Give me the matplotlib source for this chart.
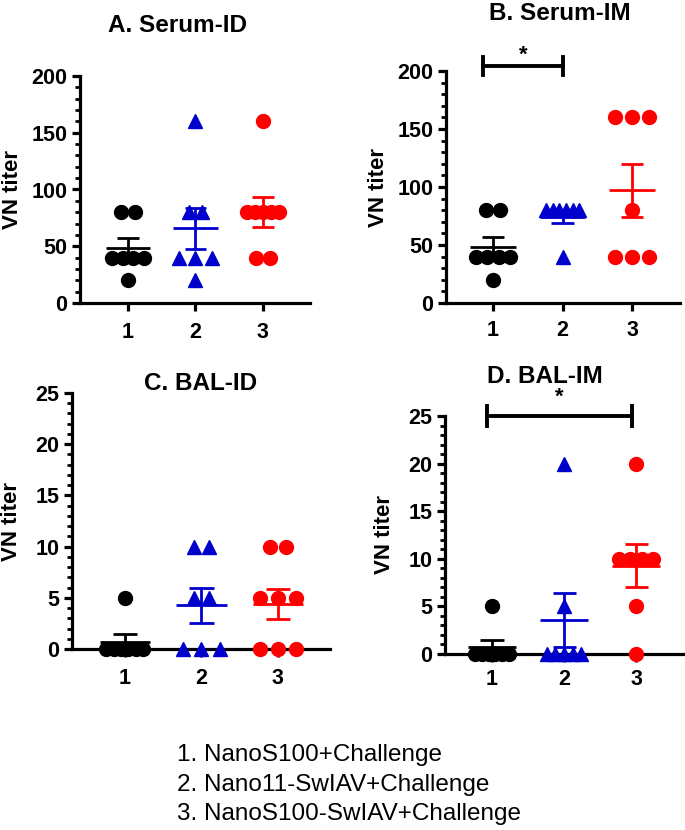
import numpy as np
import matplotlib
matplotlib.use("Agg")
import matplotlib.pyplot as plt
from matplotlib.ticker import MultipleLocator

plt.rcParams["font.family"] = ["Liberation Sans", "DejaVu Sans"]

# ---------------------------------------------------------------------------
# Data (VN titers per animal)
# ---------------------------------------------------------------------------
groups = ["1", "2", "3"]

serum_id_g1 = [80, 80, 40, 40, 40, 40, 20]
serum_id_g2 = [160, 80, 80, 40, 40, 40, 20]
serum_id_g3 = [160, 80, 80, 80, 80, 80, 40, 40]

serum_im_g1 = [80, 80, 40, 40, 40, 40, 20]
serum_im_g2 = [80, 80, 80, 80, 80, 80, 40]
serum_im_g3 = [160, 160, 160, 80, 40, 40, 40]

bal_id_g1 = [5, 0, 0, 0, 0, 0, 0]
bal_id_g2 = [10, 10, 5, 5, 0, 0, 0]
bal_id_g3 = [10, 10, 5, 5, 5, 0, 0, 0]

bal_im_g1 = [5, 0, 0, 0, 0, 0, 0]
bal_im_g2 = [20, 5, 0, 0, 0, 0, 0]
bal_im_g3 = [20, 10, 10, 10, 10, 5, 0]

legend_lines = ["1. NanoS100+Challenge",
                "2. Nano11-SwIAV+Challenge",
                "3. NanoS100-SwIAV+Challenge"]

colors = ["#000000", "#0000CC", "#FF0000"]
markers = ["o", "^", "o"]

W, H = 685, 830


def spread(values):
    """Horizontal offsets so that equal values sit side by side."""
    values = np.asarray(values, dtype=float)
    offs = np.zeros(len(values))
    for v in np.unique(values):
        idx = np.where(values == v)[0]
        k = len(idx)
        if k == 1:
            continue
        half = 0.1 if k == 2 else 0.24
        offs[idx] = np.linspace(-half, half, k)
    return offs


def panel(rect, data, ymax, ymajor, yminor, xlim, labelpad, xpad):
    ax = fig.add_axes(rect)
    for i, vals in enumerate(data):
        x0 = i + 1
        vals = np.asarray(vals, dtype=float)
        ax.plot(x0 + spread(vals), vals, linestyle="none", marker=markers[i],
                color=colors[i], markersize=10, clip_on=False, zorder=3)
        m = vals.mean()
        sem = vals.std(ddof=1) / np.sqrt(len(vals))
        ax.hlines(m, x0 - 0.33, x0 + 0.33, color=colors[i], lw=2.0, zorder=4)
        ax.vlines(x0, m - sem, m + sem, color=colors[i], lw=2.0, zorder=4)
        ax.hlines([m - sem, m + sem], x0 - 0.16, x0 + 0.16, color=colors[i],
                  lw=2.0, zorder=4)
    ax.set_xlim(*xlim)
    ax.set_ylim(0, ymax)
    ax.set_xticks([1, 2, 3])
    ax.set_xticklabels(groups)
    ax.yaxis.set_major_locator(MultipleLocator(ymajor))
    ax.yaxis.set_minor_locator(MultipleLocator(yminor))
    for s in ["top", "right"]:
        ax.spines[s].set_visible(False)
    for s in ["left", "bottom"]:
        ax.spines[s].set_linewidth(2.3)
    ax.tick_params(axis="both", which="major", length=6, width=2.3,
                   labelsize=15.5, pad=3)
    ax.tick_params(axis="x", which="major", pad=xpad)
    ax.tick_params(axis="y", which="minor", length=3.5, width=2.0)
    for lab in ax.get_xticklabels() + ax.get_yticklabels():
        lab.set_fontweight("bold")
    ax.set_ylabel("VN titer", fontsize=16, fontweight="bold", labelpad=labelpad)
    return ax


def sig_bar(ax, x1, x2, y, dy, star_y):
    kw = dict(color="black", lw=2.8, clip_on=False)
    ax.plot([x1, x2], [y, y], **kw)
    ax.plot([x1, x1], [y - dy, y + dy], **kw)
    ax.plot([x2, x2], [y - dy, y + dy], **kw)
    ax.text((x1 + x2) / 2, star_y, "*", ha="center", va="center",
            fontsize=16, fontweight="bold")


fig = plt.figure(figsize=(W / 100, H / 100), dpi=100)

ax_a = panel([80 / W, 1 - 303 / H, 230 / W, 227 / H],
             [serum_id_g1, serum_id_g2, serum_id_g3], 200, 50, 10,
             (0.289, 3.70), 6, 8)
ax_b = panel([446 / W, 1 - 303 / H, 234 / W, 232 / H],
             [serum_im_g1, serum_im_g2, serum_im_g3], 200, 50, 10,
             (0.324, 3.69), 6, 6)
ax_c = panel([72 / W, 1 - 649 / H, 258 / W, 256 / H],
             [bal_id_g1, bal_id_g2, bal_id_g3], 25, 5, 1,
             (0.31, 3.68), 10, 8)
ax_d = panel([445 / W, 1 - 654 / H, 240 / W, 238 / H],
             [bal_im_g1, bal_im_g2, bal_im_g3], 25, 5, 1,
             (0.347, 3.68), 10, 5)

sig_bar(ax_b, 0.86, 2.0, 204.3, 8.0, 214)
sig_bar(ax_d, 0.93, 2.94, 25.0, 1.0, 27.0)

titles = [("A. Serum-ID", 177, 25), ("B. Serum-IM", 560, 13),
          ("C. BAL-ID", 201, 383), ("D. BAL-IM", 545, 376)]
for t, x, y in titles:
    fig.text(x / W, 1 - y / H, t, ha="center", va="center",
             fontsize=17.5, fontweight="bold")

for k, line in enumerate(legend_lines):
    fig.text(177 / W, 1 - (755 + 29.5 * k) / H, line, ha="left", va="center",
             fontsize=17.5)

fig.savefig("out.png", dpi=100)
